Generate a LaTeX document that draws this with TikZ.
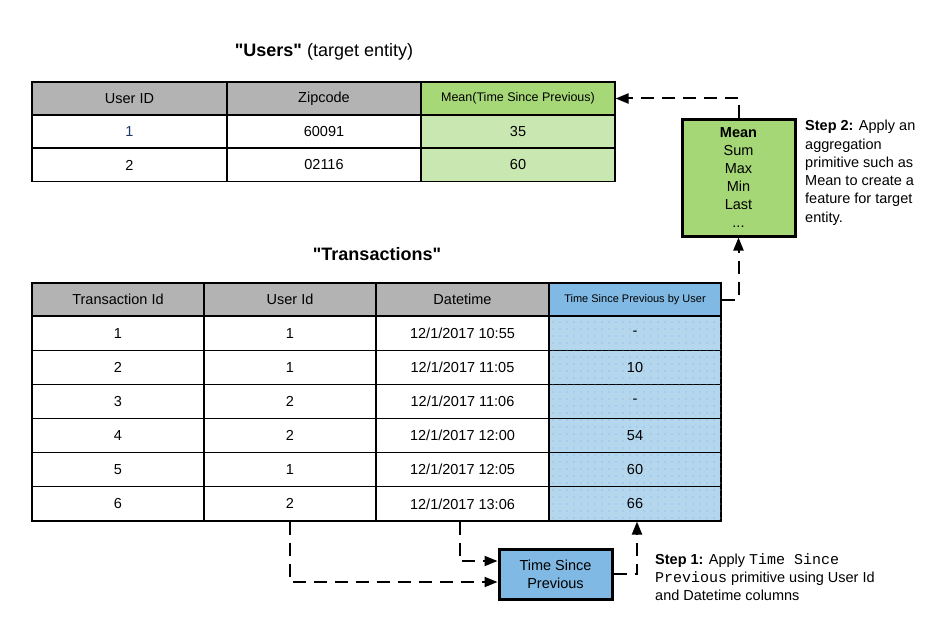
\documentclass[tikz,border=0pt]{standalone}
\usepackage{fontspec}
\setmainfont{Liberation Sans}[Ligatures=TeXOff]
\setmonofont{Liberation Mono}
\usetikzlibrary{arrows.meta,patterns.meta}

\definecolor{hdrgray}{HTML}{B3B3B3}
\definecolor{grnhdr}{HTML}{A7D878}
\definecolor{grncell}{HTML}{C9E7B1}
\definecolor{meangreen}{HTML}{A6D776}
\definecolor{bluhdr}{HTML}{80B9E3}
\definecolor{blucell}{HTML}{B4D7EE}
\definecolor{dotblue}{HTML}{6FAAE6}
\definecolor{idnavy}{HTML}{1F3B66}

\begin{document}
\begin{tikzpicture}[x=1pt,y=-1pt,
  cell/.style={draw,line width=1.1pt,minimum height=33pt,inner sep=0pt,
    font=\fontsize{14.5}{17}\selectfont},
  hdr/.style={cell,fill=hdrgray},
  grnhdrcell/.style={cell,fill=grnhdr,font=\fontsize{12.5}{15}\selectfont},
  grncellv/.style={cell,fill=grncell},
  bluhdrcell/.style={cell,fill=bluhdr,font=\fontsize{11}{13}\selectfont},
  blucellv/.style={cell,fill=blucell,
    postaction={pattern={Dots[distance=7pt,radius=0.6pt]},pattern color=dotblue}},
  opbox/.style={draw,line width=3pt,inner sep=0pt,align=center,
    font=\fontsize{14.5}{18}\selectfont},
  steptext/.style={inner sep=0pt,align=left,font=\fontsize{14.5}{18.3}\selectfont},
  title/.style={font=\fontsize{18}{22}\selectfont},
  conn/.style={line width=2pt,dash pattern=on 13pt off 8pt,
    -{Triangle[length=13pt,width=10pt]}}]

\fill[white] (0,0) rectangle (934,623);

% titles
\node[title] (utitle) at (324,52) {\textbf{"Users"} (target entity)};
\node[title] (ttitle) at (377,254) {\textbf{"Transactions"}};

% users table
\node[hdr,minimum width=195pt] (uh-1) at (129.5,98.5) {User ID};
\node[hdr,minimum width=194pt] (uh-2) at (324,98.5) {Zipcode};
\node[grnhdrcell,minimum width=194pt] (uh-3) at (518,98.5) {Mean(Time Since Previous)};
\foreach \r/\y/\uid/\zip/\m in {1/131.5/\textcolor{idnavy}{1}/60091/35, 2/165/2/02116/60}{
  \node[cell,minimum width=195pt] (uc-\r-1) at (129.5,\y) {\uid};
  \node[cell,minimum width=194pt] (uc-\r-2) at (324,\y) {\zip};
  \node[grncellv,minimum width=194pt] (uc-\r-3) at (518,\y) {\m};
}

% transactions table
\node[hdr,minimum width=172pt] (th-1) at (118,299.5) {Transaction Id};
\node[hdr,minimum width=172pt] (th-2) at (290,299.5) {User Id};
\node[hdr,minimum width=173pt] (th-3) at (462.5,299.5) {Datetime};
\node[bluhdrcell,minimum width=172pt] (th-4) at (635,299.5) {Time Since Previous by User};
\foreach \r/\y/\uid/\tm/\tsp in {1/333.1/1/10:55/-, 2/367.3/1/11:05/10, 3/401.4/2/11:06/-,
    4/435.6/2/12:00/54, 5/469.7/1/12:05/60, 6/503.9/2/13:06/66}{
  \node[cell,minimum width=172pt,minimum height=34.2pt] (tc-\r-1) at (118,\y) {\r};
  \node[cell,minimum width=172pt,minimum height=34.2pt] (tc-\r-2) at (290,\y) {\uid};
  \node[cell,minimum width=173pt,minimum height=34.2pt] (tc-\r-3) at (462.5,\y) {12/1/2017 \tm};
  \node[blucellv,minimum width=172pt,minimum height=34.2pt] (tc-\r-4) at (635,\y) {\tsp};
}

% aggregation primitive
\node[opbox,fill=meangreen,minimum width=113pt,minimum height=116pt] (meanbox) at (738.5,178)
  {\textbf{Mean}\\Sum\\Max\\Min\\Last\\...};
\node[steptext,anchor=north west] (step2) at (805,120)
  {\textbf{Step 2:} Apply an\\aggregation\\primitive such as\\Mean to create a\\feature for target\\entity.};

% transform primitive
\node[opbox,fill=bluhdr,minimum width=113pt,minimum height=50pt] (tsp) at (555.5,574)
  {Time Since\\Previous};
\node[steptext,anchor=north west] (step1) at (655,553)
  {\textbf{Step 1:} Apply \texttt{\fontsize{15}{18}\selectfont Time Since}\\
   \texttt{\fontsize{15}{18}\selectfont Previous} primitive using User Id\\and Datetime columns};

% connectors
\draw[conn] (meanbox.north) |- (uh-3.east);
\draw[conn] (th-4.east) -| (meanbox.south);
\draw[conn] (tc-6-2.south) |- ([yshift=-8pt]tsp.west);
\draw[conn] ([xshift=-3pt]tc-6-3.south) |- ([yshift=13pt]tsp.west);
\draw[conn] (tsp.east) -| ([xshift=2pt]tc-6-4.south);

\end{tikzpicture}
\end{document}
